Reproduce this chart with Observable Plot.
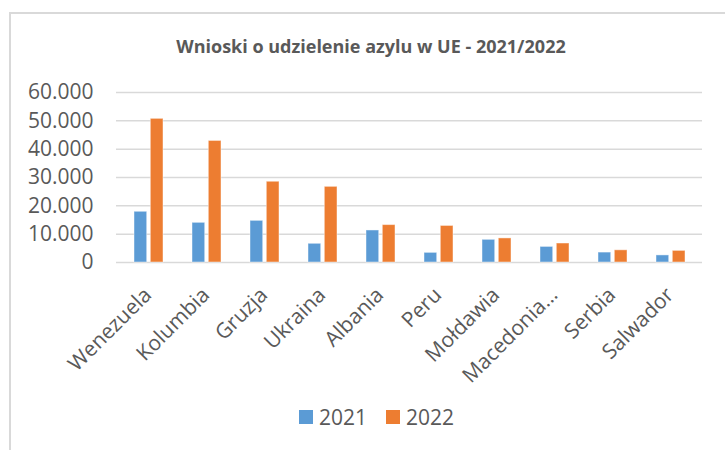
<!DOCTYPE html>
<html><head><meta charset="utf-8">
<script src="https://cdn.jsdelivr.net/npm/d3@7"></script>
<script src="https://cdn.jsdelivr.net/npm/@observablehq/plot@0.6"></script>
<style>
body{margin:0;background:#fff;font-family:"Open Sans",sans-serif;}
#wrap{position:relative;width:725px;height:450px;overflow:hidden;background:#fff;}
#frame{position:absolute;left:9px;top:12px;width:800px;height:500px;border:2px solid #d9d9d9;box-sizing:border-box;}
#title{position:absolute;left:0;width:742px;top:34px;text-align:center;font-weight:bold;font-size:18px;color:#595959;}
#chart{position:absolute;left:0;top:70px;}
#legend{position:absolute;top:403px;left:299px;display:flex;align-items:center;font-size:21px;color:#595959;}
.item{display:flex;align-items:center;margin-right:19px;}
.sw{width:14px;height:14px;margin-right:6px;}
</style></head>
<body>
<div id="wrap">
  <div id="frame"></div>
  <div id="title">Wnioski o udzielenie azylu w UE - 2021/2022</div>
  <div id="chart"></div>
  <div id="legend"></div>
</div>
<script>
const countries = ["Wenezuela","Kolumbia","Gruzja","Ukraina","Albania","Peru","Mołdawia","Macedonia…","Serbia","Salwador"];
const v2021 = [17900,14000,14700,6600,11300,3400,8000,5500,3500,2500];
const v2022 = [50700,42900,28500,26700,13200,12900,8500,6700,4300,4100];
const years = ["2021","2022"];
const colors = ["#5B9BD5","#ED7D31"];
const yTicks = [0,10000,20000,30000,40000,50000,60000];

const fmt = d3.formatLocale({decimal:",", thousands:".", grouping:[3], currency:["",""]}).format(",");
const d21 = countries.map((c,i)=>({country:c, year:years[0], value:v2021[i]}));
const d22 = countries.map((c,i)=>({country:c, year:years[1], value:v2022[i]}));

const chart = Plot.plot({
  width:725, height:325,
  marginTop:22, marginBottom:133, marginLeft:116, marginRight:23,
  style:{fontFamily:"Open Sans", fontSize:"21px", color:"#595959", background:"transparent"},
  x:{domain:countries, paddingInner:0.5, paddingOuter:0.25, label:null},
  y:{domain:[0,60000], label:null},
  color:{domain:years, range:colors},
  marks:[
    Plot.gridY(yTicks,{stroke:"#d9d9d9", strokeOpacity:1, strokeWidth:1.5}),
    Plot.barY(d21,{x:"country", y:"value", fill:"year", insetRight:16.3, stroke:"#ffffff", strokeOpacity:0.45, strokeWidth:1}),
    Plot.barY(d22,{x:"country", y:"value", fill:"year", insetLeft:16.3, stroke:"#ffffff", strokeOpacity:0.45, strokeWidth:1}),
    Plot.axisY(yTicks,{tickSize:0, tickPadding:23, tickFormat:fmt, fontSize:21, label:null}),
    Plot.axisX({tickSize:0, tickRotate:-45, tickPadding:29, fontSize:21, label:null, dx:-1})
  ]
});
document.getElementById("chart").appendChild(chart);

const lg = d3.select("#legend");
years.forEach((y,i)=>{
  const it = lg.append("div").attr("class","item");
  it.append("div").attr("class","sw").style("background",colors[i]);
  it.append("span").text(y);
});
</script>
</body></html>
